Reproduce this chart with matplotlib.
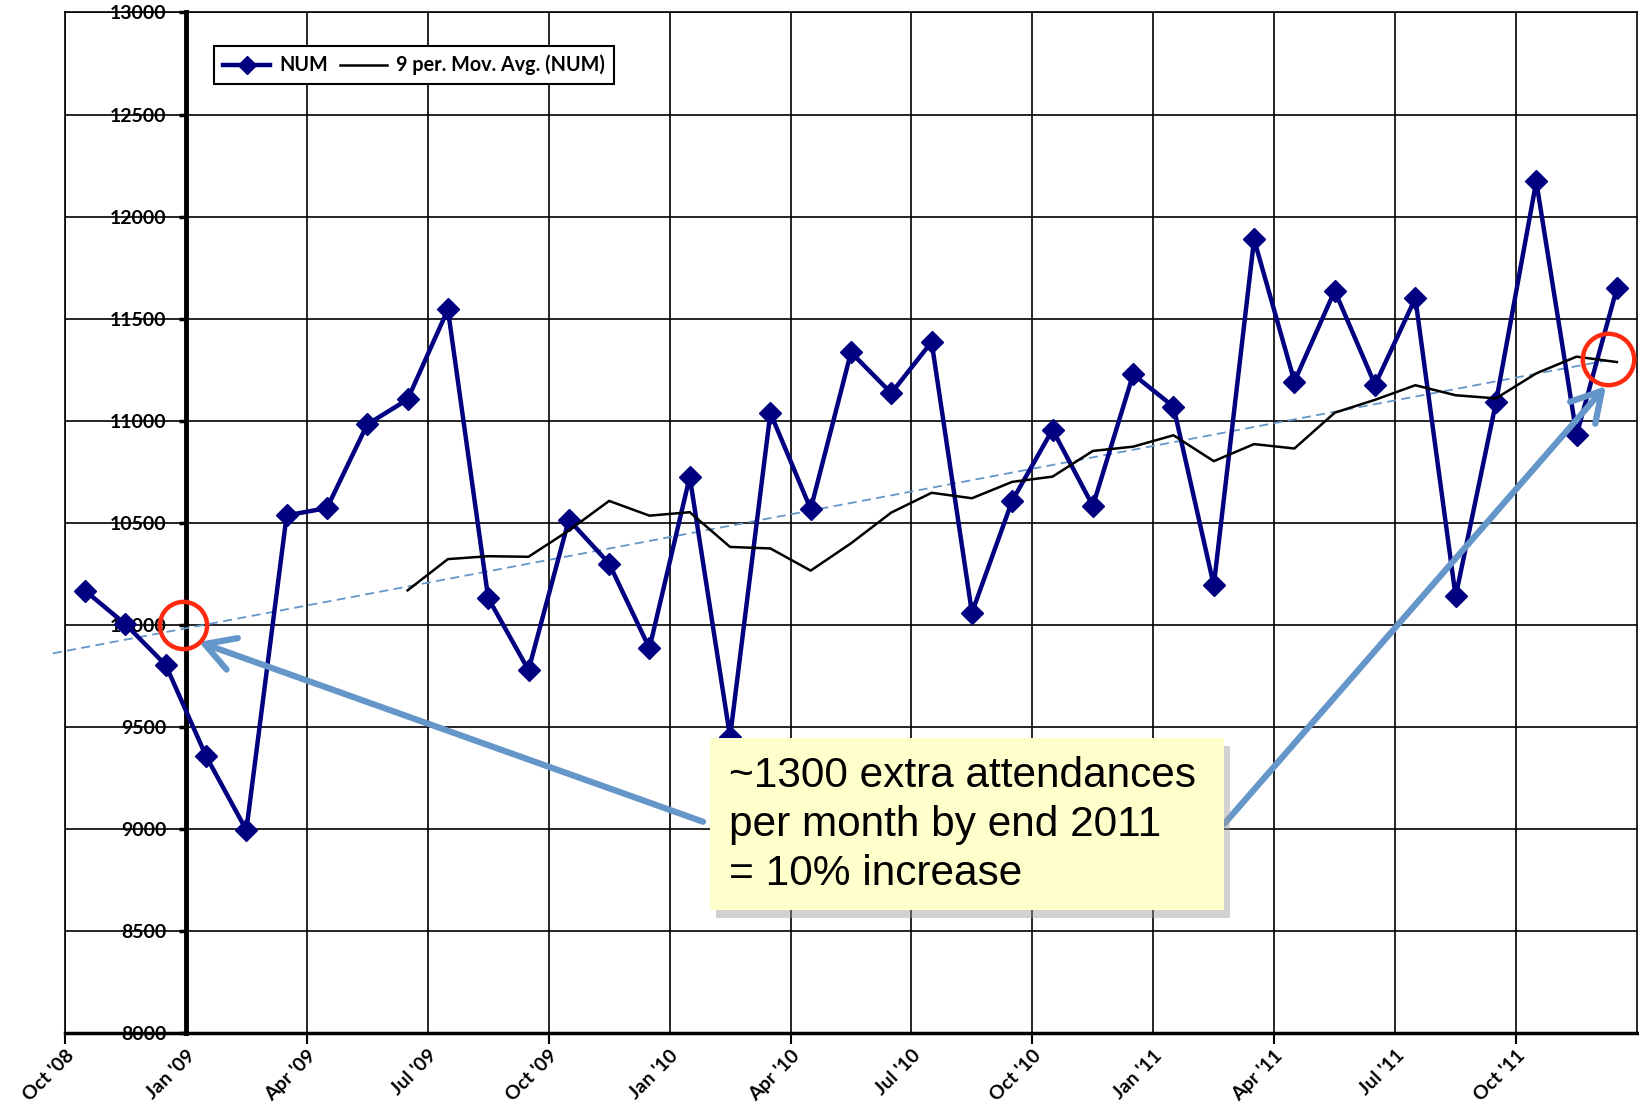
import numpy as np
import matplotlib
matplotlib.use("Agg")
import matplotlib.pyplot as plt
from matplotlib.lines import Line2D
from matplotlib.patches import Rectangle, FancyArrowPatch

# monthly attendances, Oct '08 .. Dec '11
num = [10167, 10003, 9803, 9357, 8994, 10536, 10572, 10982, 11104, 11545,
       10131, 9778, 10515, 10300, 9885, 10725, 9450, 11038, 10567, 11335,
       11135, 11386, 10059, 10608, 10956, 10582, 11227, 11069, 10193, 11888,
       11192, 11637, 11176, 11600, 10139, 11090, 12172, 10930, 11649]

quarter_labels = ["Oct '08", "Jan '09", "Apr '09", "Jul '09", "Oct '09", "Jan '10", "Apr '10",
                  "Jul '10", "Oct '10", "Jan '11", "Apr '11", "Jul '11", "Oct '11"]

window = 9

# hand drawn dashed trend (month index, value)
trend_x = [-0.3, 38.25]
trend_y = [9860, 11295]

# annotation circles and arrows (month index, value)
circle_x = [2.93, 38.28]
circle_y = [10000, 11300]
arrow_tail_x = [15.83, 28.76]
arrow_tail_y = [9035, 9025]
arrow_head_x = [3.32, 38.23]
arrow_head_y = [9916, 11170]

note = "~1300 extra attendances\nper month by end 2011\n= 10% increase"

NAVY = "#000080"
BLUE = "#6496CA"
TICK_FONT = dict(family = "Lato", fontweight = "bold", fontsize = 14)

x = np.arange(len(num)) + 0.5
ma = np.convolve(num, np.ones(window) / window, mode = "valid")
x_ma = x[window - 1:]

fig = plt.figure(figsize = (16.4, 11.04), dpi = 100)
ax = fig.add_axes([0.0396, 0.0643, 0.9586, 0.9244])

ax.set_xlim(0, 39)
ax.set_ylim(8000, 13000)

# grid
ax.set_xticks(np.arange(0, 37, 3))
ax.set_yticks(np.arange(8000, 13001, 500))
ax.grid(True, color = "black", linewidth = 1.2, zorder = 0)
ax.set_axisbelow(True)
ax.axvline(0, color = "black", linewidth = 1.2, clip_on = False, zorder = 1)

for s in ["top", "right"]:
    ax.spines[s].set_linewidth(1.2)
ax.spines["bottom"].set_linewidth(2.5)
ax.spines["left"].set_position(("data", 3))
ax.spines["left"].set_linewidth(3.5)

ax.tick_params(axis = "y", direction = "out", length = 5, width = 2.5, pad = 9)
ax.set_yticklabels([str(v) for v in range(8000, 13001, 500)], **TICK_FONT)

ax.set_xticklabels(quarter_labels, rotation = 45, ha = "right", va = "top",
                   rotation_mode = "anchor", **TICK_FONT)
ax.tick_params(axis = "x", which = "major", length = 0, pad = 10)
ax.xaxis.remove_overlapping_locs = False
ax.set_xticks(np.arange(0, 37, 6), minor = True)
ax.tick_params(axis = "x", which = "minor", direction = "out", length = 8, width = 1.5)

# series
ax.plot(x, num, color = NAVY, linewidth = 3.2, marker = "D", markersize = 11,
        clip_on = False, zorder = 4)
ax.plot(x_ma, ma, color = "black", linewidth = 1.8, zorder = 4.5)
ax.plot(trend_x, trend_y, color = BLUE, linewidth = 1.3, linestyle = (0, (5, 3)),
        clip_on = False, zorder = 3)

# annotation
for i in range(2):
    arr = FancyArrowPatch((arrow_tail_x[i], arrow_tail_y[i]), (arrow_head_x[i], arrow_head_y[i]),
                          arrowstyle = "->,head_length=0.7,head_width=0.4", mutation_scale = 30,
                          color = BLUE, linewidth = 4.5, zorder = 5, shrinkA = 0, shrinkB = 0)
    ax.add_patch(arr)

ax.plot(circle_x[0], circle_y[0], "o", markersize = 34, mfc = "none", mec = "#FF2A10",
        mew = 3.2, clip_on = False, zorder = 8)
ax.plot(circle_x[1], circle_y[1], "o", markersize = 37, mfc = "none", mec = "#FF2A10",
        mew = 3.2, clip_on = False, zorder = 8)

ax.add_patch(Rectangle((0.414, 0.113), 0.327, 0.168, transform = ax.transAxes,
                       facecolor = "#999999", alpha = 0.45, edgecolor = "none", zorder = 6))
ax.add_patch(Rectangle((0.410, 0.121), 0.327, 0.168, transform = ax.transAxes,
                       facecolor = "#FFFFCC", edgecolor = "none", zorder = 6.5))
ax.text(0.4225, 0.204, note, transform = ax.transAxes, family = "Liberation Sans",
        fontsize = 30.5, ha = "left", va = "center", linespacing = 1.28, zorder = 7)

handles = [Line2D([], [], color = NAVY, linewidth = 3.2, marker = "D", markersize = 9),
           Line2D([], [], color = "black", linewidth = 1.8)]
leg = ax.legend(handles, ["NUM", "9 per. Mov. Avg. (NUM)"], loc = "upper left",
                bbox_to_anchor = (0.1305, 0.9583), bbox_transform = fig.transFigure,
                ncol = 2, borderaxespad = 0, fancybox = False, framealpha = 1,
                edgecolor = "black", handlelength = 2.4, handletextpad = 0.45,
                columnspacing = 0.6, borderpad = 0.45,
                prop = dict(family = "Lato", weight = "bold", size = 14.2))
leg.get_frame().set_linewidth(1.5)
leg.set_zorder(10)

fig.savefig("out.png", dpi = 100)
